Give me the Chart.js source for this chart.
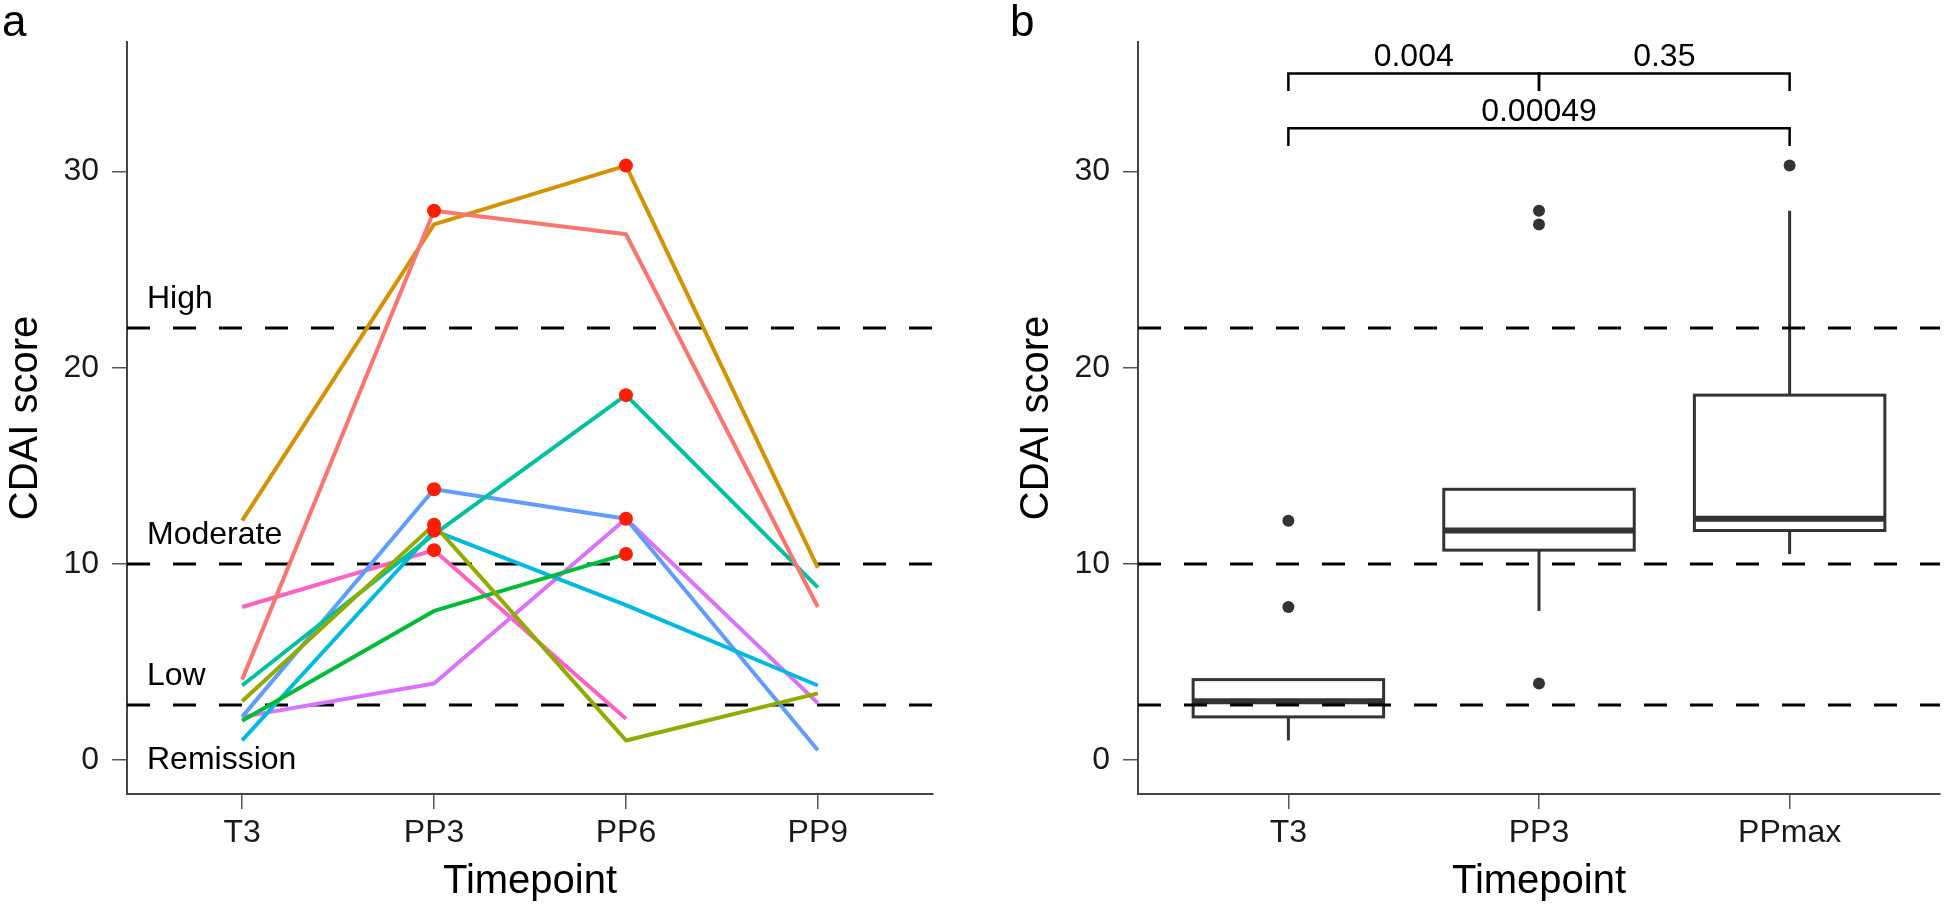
<!DOCTYPE html>
<html>
<head>
<meta charset="utf-8">
<script src="https://cdn.jsdelivr.net/npm/chart.js@4.4.0/dist/chart.umd.min.js"></script>
<style>
  html, body { margin: 0; padding: 0; background: #fff; }
  #wrap { position: relative; width: 1946px; height: 907px; overflow: hidden; }
  #left { position: absolute; left: 0; top: 0; }
  #right { position: absolute; left: 960px; top: 0; }
</style>
</head>
<body>
<div id="wrap">
  <canvas id="left" width="960" height="907"></canvas>
  <canvas id="right" width="986" height="907"></canvas>
</div>
<script>
const timepoints = ['T3', 'PP3', 'PP6', 'PP9'];
const boxGroups = ['T3', 'PP3', 'PPmax'];
const yTicks = [0, 10, 20, 30];
const cutoffs = [2.8, 10, 22];
const levelNames = ['Remission', 'Low', 'Moderate', 'High'];

// CDAI score per patient at T3, PP3, PP6, PP9 (null = no visit)
const patient1 = [4.1, 28.0, 26.8, 7.8];
const patient2 = [12.2, 27.3, 30.3, 9.8];
const patient3 = [3.0, 12.0, 1.0, 3.4];
const patient4 = [2.0, 7.6, 10.5, null];
const patient5 = [3.8, 11.5, 18.6, 8.8];
const patient6 = [1.0, 11.7, 7.9, 3.8];
const patient7 = [2.2, 13.8, 12.3, 0.5];
const patient8 = [2.2, 3.9, 12.3, 2.9];
const patient9 = [7.8, 10.7, 2.1, null];
const patients = [patient1, patient2, patient3, patient4, patient5, patient6, patient7, patient8, patient9];
const patientColors = ['#F8766D', '#D39200', '#93AA00', '#00BA38', '#00C19F', '#00B9E3', '#619CFF', '#DB72FB', '#FF61C3'];

// Wilcoxon comparisons on panel b
const comparePairs = [[0, 1], [1, 2], [0, 2]];
const pValues = ['0.004', '0.35', '0.00049'];
const bracketLevels = [35.0, 35.0, 32.2];

const FONT = '"Liberation Sans", Arial, Helvetica, sans-serif';
Chart.defaults.font.family = FONT;
Chart.defaults.color = '#1a1a1a';

const Y_MIN = -1.73, Y_MAX = 36.6;

// peak postpartum value per patient (red dots)
const peakPoints = patients.map(p => {
  let best = 1;
  for (let j = 2; j < p.length; j++) if (p[j] != null && p[j] > p[best]) best = j;
  return { x: best, y: p[best] };
});

// box plot groups
const groupValues = [
  patients.map(p => p[0]),
  patients.map(p => p[1]),
  peakPoints.map(d => d.y)
];

function quantile(sorted, q) {
  const h = (sorted.length - 1) * q;
  const lo = Math.floor(h);
  const hi = Math.min(lo + 1, sorted.length - 1);
  return sorted[lo] + (h - lo) * (sorted[hi] - sorted[lo]);
}

const boxStats = groupValues.map(vals => {
  const s = vals.slice().sort((a, b) => a - b);
  const q1 = quantile(s, 0.25), med = quantile(s, 0.5), q3 = quantile(s, 0.75);
  const iqr = q3 - q1;
  const inside = s.filter(v => v >= q1 - 1.5 * iqr && v <= q3 + 1.5 * iqr);
  return {
    q1, med, q3,
    lo: Math.min(...inside),
    hi: Math.max(...inside),
    out: s.filter(v => v < q1 - 1.5 * iqr || v > q3 + 1.5 * iqr)
  };
});

const outlierPoints = [];
boxStats.forEach((b, i) => b.out.forEach(v => outlierPoints.push({ x: i, y: v })));

function drawCutoffs(chart) {
  const { ctx, chartArea: a, scales: { y } } = chart;
  ctx.save();
  ctx.strokeStyle = '#000';
  ctx.lineWidth = 3;
  ctx.setLineDash([23, 23]);
  cutoffs.forEach(c => {
    const py = Math.round(y.getPixelForValue(c));
    ctx.beginPath();
    ctx.moveTo(a.left, py);
    ctx.lineTo(a.right, py);
    ctx.stroke();
  });
  ctx.restore();
}

const cutoffPlugin = {
  id: 'cutoffs',
  beforeDatasetsDraw(chart, args, opts) {
    drawCutoffs(chart);
    if (!opts.labels) return;
    const { ctx, chartArea: a, scales: { y } } = chart;
    ctx.save();
    ctx.font = '32px ' + FONT;
    ctx.fillStyle = '#000';
    ctx.textAlign = 'left';
    ctx.textBaseline = 'middle';
    ctx.fillText(levelNames[0], a.left + 20, y.getPixelForValue(0));
    ctx.textBaseline = 'alphabetic';
    cutoffs.forEach((c, i) => {
      ctx.fillText(levelNames[i + 1], a.left + 20, y.getPixelForValue(c) - 20);
    });
    ctx.restore();
  }
};

const panelTag = {
  id: 'panelTag',
  afterDraw(chart, args, opts) {
    const ctx = chart.ctx;
    ctx.save();
    ctx.font = '44px ' + FONT;
    ctx.fillStyle = '#000';
    ctx.textBaseline = 'alphabetic';
    ctx.fillText(opts.text, opts.x, 36);
    ctx.restore();
  }
};

const boxPlugin = {
  id: 'boxes',
  beforeDatasetsDraw(chart) {
    const { ctx, scales: { x, y } } = chart;
    ctx.save();
    ctx.strokeStyle = '#333';
    ctx.lineCap = 'butt';
    boxStats.forEach((b, i) => {
      const cx = x.getPixelForValue(i);
      const hw = x.getPixelForValue(i + 0.38) - cx;
      const top = y.getPixelForValue(b.q3), bot = y.getPixelForValue(b.q1);
      ctx.lineWidth = 3;
      ctx.beginPath();
      ctx.moveTo(cx, top); ctx.lineTo(cx, y.getPixelForValue(b.hi));
      ctx.moveTo(cx, bot); ctx.lineTo(cx, y.getPixelForValue(b.lo));
      ctx.stroke();
      ctx.fillStyle = '#fff';
      ctx.fillRect(cx - hw, top, 2 * hw, bot - top);
      ctx.strokeRect(cx - hw, top, 2 * hw, bot - top);
      ctx.lineWidth = 6;
      ctx.beginPath();
      const m = y.getPixelForValue(b.med);
      ctx.moveTo(cx - hw, m); ctx.lineTo(cx + hw, m);
      ctx.stroke();
    });
    ctx.restore();
    drawCutoffs(chart);
  },
  afterDatasetsDraw(chart) {
    const { ctx, scales: { x, y } } = chart;
    ctx.save();
    ctx.strokeStyle = '#000';
    ctx.fillStyle = '#000';
    ctx.lineWidth = 2.5;
    ctx.font = '32px ' + FONT;
    ctx.textAlign = 'center';
    ctx.textBaseline = 'alphabetic';
    comparePairs.forEach(([a, b], k) => {
      const ly = y.getPixelForValue(bracketLevels[k]);
      const dy = y.getPixelForValue(bracketLevels[k] - 0.9);
      const xa = x.getPixelForValue(a), xb = x.getPixelForValue(b);
      ctx.beginPath();
      ctx.moveTo(xa, dy); ctx.lineTo(xa, ly); ctx.lineTo(xb, ly); ctx.lineTo(xb, dy);
      ctx.stroke();
      ctx.fillText(pValues[k], (xa + xb) / 2, ly - 7);
    });
    ctx.restore();
  }
};

function yScale(axisWidth, titlePad) {
  return {
    type: 'linear',
    min: Y_MIN,
    max: Y_MAX,
    afterBuildTicks: s => { s.ticks = yTicks.map(v => ({ value: v })); },
    afterFit: s => { s.width = axisWidth; },
    grid: { drawOnChartArea: false, drawTicks: true, tickLength: 15, color: '#555', lineWidth: 1.5 },
    border: { display: true, color: '#444', width: 2 },
    ticks: { font: { size: 32 }, color: '#1a1a1a', padding: 13 },
    title: { display: true, text: 'CDAI score', font: { size: 40 }, color: '#000', padding: { top: titlePad, bottom: 0 } }
  };
}

function xScale(labels) {
  return {
    type: 'linear',
    min: -0.6,
    max: labels.length - 0.4,
    afterBuildTicks: s => { s.ticks = labels.map((_, i) => ({ value: i })); },
    afterFit: s => { s.height = 113; },
    grid: { drawOnChartArea: false, drawTicks: true, tickLength: 15, color: '#555', lineWidth: 1.5 },
    border: { display: true, color: '#444', width: 2 },
    ticks: { font: { size: 32 }, color: '#1a1a1a', padding: 5, maxRotation: 0, autoSkip: false,
             callback: v => labels[v] },
    title: { display: true, text: 'Timepoint', font: { size: 40 }, color: '#000', padding: { top: 0, bottom: 1 } }
  };
}

new Chart(document.getElementById('left'), {
  type: 'line',
  data: {
    datasets: [
      { label: 'Peak', data: peakPoints, showLine: false, pointRadius: 7, pointBorderWidth: 0,
        pointBackgroundColor: '#FF1E00', order: 0 }
    ].concat(patients.map((p, i) => ({
      label: 'Patient ' + (i + 1),
      data: p.map((v, j) => ({ x: j, y: v })),
      borderColor: patientColors[i],
      borderWidth: 4,
      borderJoinStyle: 'round',
      pointRadius: 0,
      spanGaps: false,
      fill: false,
      order: 1
    })))
  },
  options: {
    responsive: false,
    animation: false,
    events: [],
    layout: { padding: { top: 42, right: 27, bottom: 0, left: 0 } },
    plugins: {
      legend: { display: false },
      tooltip: { enabled: false },
      cutoffs: { labels: true },
      panelTag: { text: 'a', x: 2 }
    },
    scales: { x: xScale(timepoints), y: yScale(127, 2) }
  },
  plugins: [cutoffPlugin, panelTag]
});

new Chart(document.getElementById('right'), {
  type: 'scatter',
  data: {
    datasets: [
      { label: 'Outliers', data: outlierPoints, pointRadius: 6, pointBorderWidth: 0,
        pointBackgroundColor: '#333' }
    ]
  },
  options: {
    responsive: false,
    animation: false,
    events: [],
    layout: { padding: { top: 42, right: 4, bottom: 0, left: 0 } },
    plugins: {
      legend: { display: false },
      tooltip: { enabled: false },
      panelTag: { text: 'b', x: 50 }
    },
    scales: { x: xScale(boxGroups), y: yScale(178, 53) }
  },
  plugins: [boxPlugin, panelTag]
});
</script>
</body>
</html>
